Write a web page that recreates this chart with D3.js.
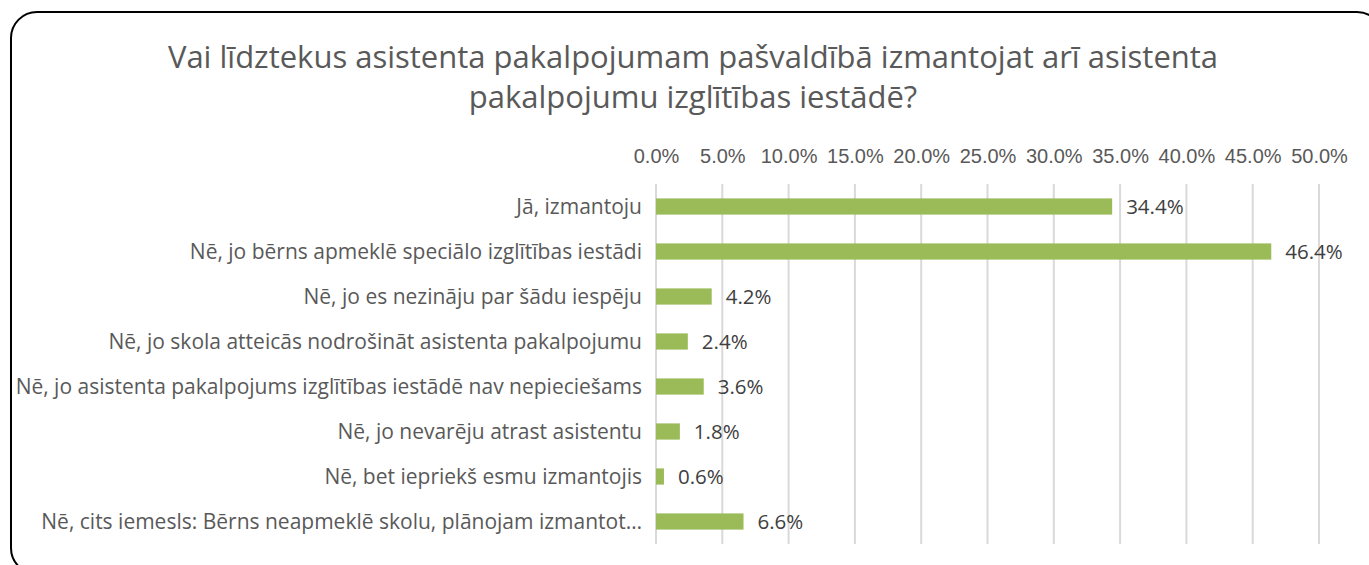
<html>
	<head>
		<script src="https://d3js.org/d3.v7.min.js"></script>
		<style>
			body { margin: 0; background: #fff; }
			svg { display: block; font-family: 'Open Sans', sans-serif; }
			.title { fill: #595959; font-size: 31px; text-anchor: middle; }
			.cat { fill: #595959; font-size: 21px; text-anchor: end; }
			.val { fill: #404040; font-size: 20.5px; }
			.xaxis text { fill: #595959; font-size: 20px; }
			.grid line { stroke: #d9d9d9; stroke-width: 2; }
			.bars rect { fill: #9bbb59; }
		</style>
	</head>

	<body>
		<svg width="1369" height="565"></svg>
	</body>

	<script>
		const titleLines = [
			'Vai līdztekus asistenta pakalpojumam pašvaldībā izmantojat arī asistenta',
			'pakalpojumu izglītības iestādē?'
		];

		const categories = [
			'Jā, izmantoju',
			'Nē, jo bērns apmeklē speciālo izglītības iestādi',
			'Nē, jo es nezināju par šādu iespēju',
			'Nē, jo skola atteicās nodrošināt asistenta pakalpojumu',
			'Nē, jo asistenta pakalpojums izglītības iestādē nav nepieciešams',
			'Nē, jo nevarēju atrast asistentu',
			'Nē, bet iepriekš esmu izmantojis',
			'Nē, cits iemesls: Bērns neapmeklē skolu, plānojam izmantot…'
		];

		const values = [0.344, 0.464, 0.042, 0.024, 0.036, 0.018, 0.006, 0.066];

		const ticks = [0, 0.05, 0.1, 0.15, 0.2, 0.25, 0.3, 0.35, 0.4, 0.45, 0.5];

		const svg = d3.select('svg');
		const rows = categories.map((c, i) => ({ cat: c, value: values[i] }));

		// frame
		svg.append('rect')
			.attr('x', 11).attr('y', 12)
			.attr('width', 1372).attr('height', 562)
			.attr('rx', 26)
			.attr('fill', 'none')
			.attr('stroke', '#000')
			.attr('stroke-width', 2);

		svg.selectAll('.title')
			.data(titleLines)
			.join('text')
			.attr('class', 'title')
			.attr('x', 693)
			.attr('y', (d, i) => 68 + i * 40)
			.text(d => d);

		const x = d3.scaleLinear().domain([0, 0.5]).range([656, 1319]);
		const y = d3.scaleBand().domain(categories).range([184, 544]).paddingInner(0.64).paddingOuter(0.32);

		svg.append('g')
			.attr('class', 'grid')
			.selectAll('line')
			.data(ticks)
			.join('line')
			.attr('x1', d => x(d)).attr('x2', d => x(d))
			.attr('y1', 184).attr('y2', 544);

		const axis = svg.append('g')
			.attr('class', 'xaxis')
			.attr('transform', 'translate(0, 163)')
			.call(d3.axisTop(x).tickValues(ticks).tickFormat(d3.format('.1%')).tickSize(0).tickPadding(0));
		axis.select('.domain').remove();
		axis.selectAll('text').attr('font-family', null).attr('font-size', null);

		svg.append('g')
			.attr('class', 'bars')
			.selectAll('rect')
			.data(rows)
			.join('rect')
			.attr('x', x(0))
			.attr('y', d => y(d.cat))
			.attr('width', d => x(d.value) - x(0))
			.attr('height', y.bandwidth());

		svg.selectAll('.cat')
			.data(rows)
			.join('text')
			.attr('class', 'cat')
			.attr('x', 642)
			.attr('y', d => y(d.cat) + y.bandwidth() / 2)
			.attr('dy', '0.35em')
			.text(d => d.cat);

		svg.selectAll('.val')
			.data(rows)
			.join('text')
			.attr('class', 'val')
			.attr('x', d => x(d.value) + 14)
			.attr('y', d => y(d.cat) + y.bandwidth() / 2)
			.attr('dy', '0.35em')
			.text(d => d3.format('.1%')(d.value));
	</script>
</html>
